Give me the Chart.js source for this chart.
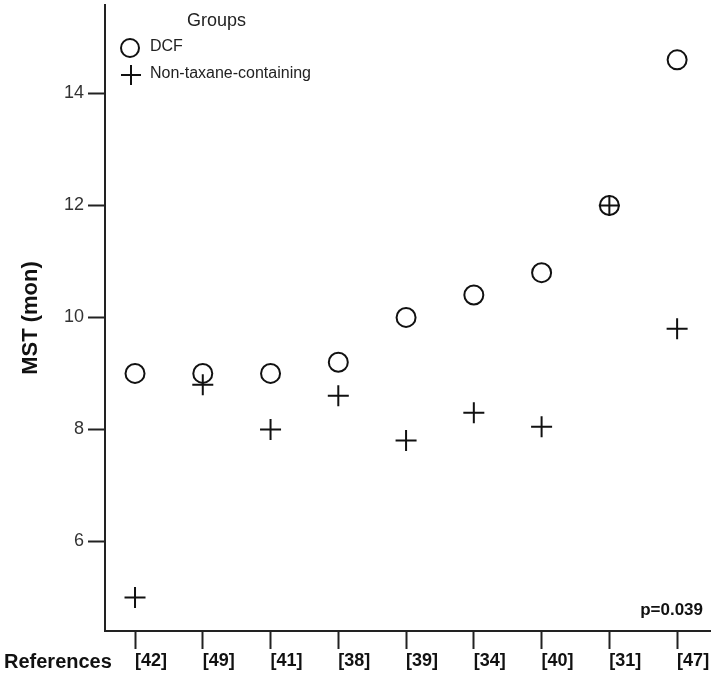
<!DOCTYPE html>
<html>
<head>
<meta charset="utf-8">
<script src="https://cdn.jsdelivr.net/npm/chart.js@4/dist/chart.umd.min.js"></script>
<style>
  html, body { margin: 0; padding: 0; background: #fff; }
</style>
</head>
<body>
<canvas id="mstChart" width="711" height="677"></canvas>
<script>
// values
let references = ['[42]', '[49]', '[41]', '[38]', '[39]', '[34]', '[40]', '[31]', '[47]'];
let dcf = [9.0, 9.0, 9.0, 9.2, 10.0, 10.4, 10.8, 12.0, 14.6];
let nonTaxane = [5.0, 8.8, 8.0, 8.6, 7.8, 8.3, 8.05, 12.0, 9.8];
let yTicks = [6, 8, 10, 12, 14];

let sans = '"Liberation Sans", Arial, sans-serif';

// legend, axis caption and p value are drawn on top of the chart
let extraText = {
    id: 'extraText',
    afterDraw(chart) {
        let ctx = chart.ctx;
        let area = chart.chartArea;
        ctx.save();
        ctx.fillStyle = '#222';
        ctx.strokeStyle = '#111';
        ctx.textBaseline = 'middle';

        ctx.font = '18px ' + sans;
        ctx.fillText('Groups', area.left + 82, 21);

        ctx.font = '16px ' + sans;
        ctx.fillText('DCF', area.left + 45, 47);
        ctx.fillText('Non-taxane-containing', area.left + 45, 74);

        ctx.lineWidth = 2;
        ctx.beginPath();
        ctx.arc(area.left + 25, 48, 9, 0, Math.PI * 2);
        ctx.stroke();
        ctx.beginPath();
        ctx.moveTo(area.left + 16, 75);
        ctx.lineTo(area.left + 36, 75);
        ctx.moveTo(area.left + 26, 65);
        ctx.lineTo(area.left + 26, 85);
        ctx.stroke();

        ctx.fillStyle = '#111';
        ctx.font = 'bold 20px ' + sans;
        ctx.fillText('References', 4, 662);

        ctx.textAlign = 'right';
        ctx.font = 'bold 17px ' + sans;
        ctx.fillText('p=0.039', 703, 610);
        ctx.restore();
    }
};

let ctx = document.getElementById('mstChart').getContext('2d');

let mstChart = new Chart(ctx, {
    type: 'scatter',
    data: {
        datasets: [{
            label: 'DCF',
            data: dcf.map((v, i) => ({x: i, y: v})),
            pointStyle: 'circle',
            pointRadius: 9.5,
            pointHoverRadius: 9.5,
            borderColor: '#111',
            backgroundColor: 'rgba(0,0,0,0)',
            borderWidth: 2
        }, {
            label: 'Non-taxane-containing',
            data: nonTaxane.map((v, i) => ({x: i, y: v})),
            pointStyle: 'cross',
            pointRadius: 10.5,
            pointHoverRadius: 10.5,
            borderColor: '#111',
            backgroundColor: '#111',
            borderWidth: 2
        }]
    },
    options: {
        responsive: false,
        animation: false,
        devicePixelRatio: 1,
        layout: {autoPadding: false, padding: {top: 5, right: 0, left: 0, bottom: 0}},
        plugins: {
            legend: {display: false},
            tooltip: {enabled: false}
        },
        scales: {
            x: {
                type: 'linear',
                min: -0.443,
                max: 8.5,
                afterBuildTicks: (s) => { s.ticks = references.map((r, i) => ({value: i})); },
                afterFit: (s) => { s.height = 46; s.paddingLeft = 0; s.paddingRight = 0; },
                grid: {drawOnChartArea: false, drawTicks: true, tickLength: 18, tickColor: '#222', tickWidth: 2},
                border: {color: '#222', width: 2},
                ticks: {
                    align: 'start',
                    padding: 1,
                    color: '#111',
                    font: {family: sans, size: 18, weight: 'bold'},
                    callback: (v) => references[Math.round(v)]
                }
            },
            y: {
                min: 4.40,
                max: 15.58,
                afterBuildTicks: (s) => { s.ticks = yTicks.map((v) => ({value: v})); },
                afterFit: (s) => { s.width = 105; s.paddingTop = 0; s.paddingBottom = 0; },
                grid: {drawOnChartArea: false, drawTicks: true, tickLength: 17, tickColor: '#222', tickWidth: 2},
                border: {color: '#222', width: 2},
                ticks: {
                    padding: 4,
                    color: '#333',
                    font: {family: sans, size: 18}
                },
                title: {
                    display: true,
                    text: 'MST (mon)',
                    color: '#111',
                    font: {family: sans, size: 22, weight: 'bold'},
                    padding: {top: 18, bottom: 0}
                }
            }
        }
    },
    plugins: [extraText]
});
</script>
</body>
</html>
